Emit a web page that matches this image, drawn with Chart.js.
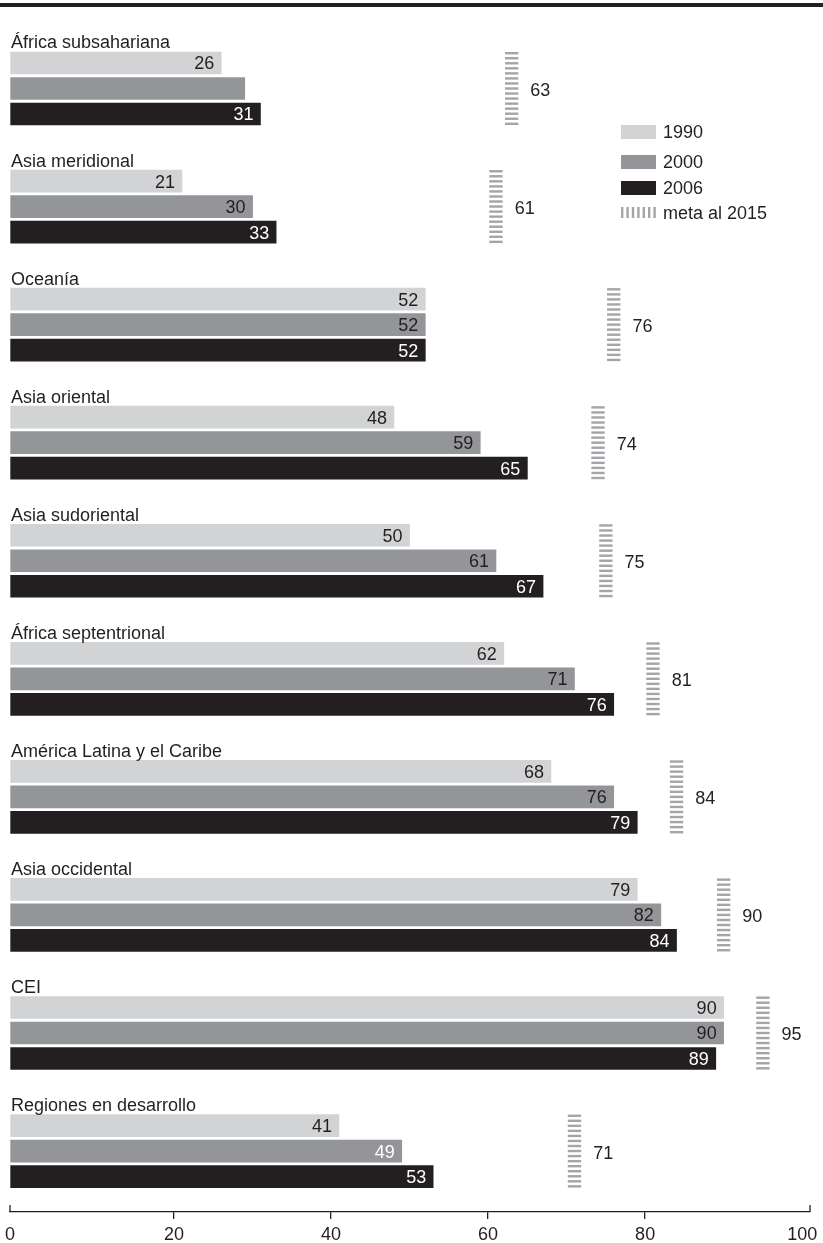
<!DOCTYPE html>
<html>
<head>
<meta charset="utf-8">
<script src="https://cdn.jsdelivr.net/npm/chart.js@4"></script>
<style>
  html, body { margin: 0; padding: 0; background: #fff; }
  canvas { display: block; }
</style>
</head>
<body>
<canvas id="chart" width="823" height="1243"></canvas>
<script>
const categories = [
  'África subsahariana',
  'Asia meridional',
  'Oceanía',
  'Asia oriental',
  'Asia sudoriental',
  'África septentrional',
  'América Latina y el Caribe',
  'Asia occidental',
  'CEI',
  'Regiones en desarrollo'
];
const years = ['1990', '2000', '2006'];
const values1990 = [26, 21, 52, 48, 50, 62, 68, 79, 90, 41];
const values2000 = [29, 30, 52, 59, 61, 71, 76, 82, 90, 49];
const values2006 = [31, 33, 52, 65, 67, 76, 79, 84, 89, 53];
const meta2015 = [63, 61, 76, 74, 75, 81, 84, 90, 95, 71];
const metaLabel = 'meta al 2015';
// the 2000 bar of the first region carries no number in the original
const unlabeled2000 = [0];
const tickValues = [0, 20, 40, 60, 80, 100];
const tickLabels = ['0', '20', '40', '60', '80', '100'];

const INK = '#231f20';
const colors = ['#d1d3d4', '#939598', INK];
const stripeColor = '#a3a5a8';
const labelColors = [INK, INK, '#ffffff'];
const FONT = "'Liberation Sans', Arial, Helvetica, sans-serif";

const X_MIN = -0.9;
const X_MAX = 101;
const STEP = 4.63;          // rows per region (3 bars + label gap)
const LABEL_ROW = -0.57;    // region name sits above the first bar
const rowY = (g, j) => g * STEP + j;

const series = [values1990, values2000, values2006];

const decor = {
  id: 'decor',
  beforeDraw(chart) {
    const { ctx, width } = chart;
    ctx.save();
    ctx.fillStyle = '#fff';
    ctx.fillRect(0, 0, width, chart.height);
    ctx.fillStyle = INK;
    ctx.fillRect(0, 3, width, 4);
    ctx.restore();
  },
  afterDatasetsDraw(chart) {
    const { ctx, scales, chartArea } = chart;
    const y = scales.y;
    ctx.save();
    ctx.font = '18px ' + FONT;

    // striped target markers
    const metaBars = chart.getDatasetMeta(3).data;
    metaBars.forEach((el, g) => {
      const p = el.getProps(['x', 'y', 'base', 'height'], true);
      const left = Math.min(p.x, p.base);
      const right = Math.max(p.x, p.base);
      const top = p.y - p.height / 2;
      const n = 15, h = 2.4;
      const pitch = (p.height - h) / (n - 1);
      ctx.fillStyle = stripeColor;
      for (let i = 0; i < n; i++) {
        ctx.fillRect(left, top + i * pitch, right - left, h);
      }
      ctx.fillStyle = INK;
      ctx.textAlign = 'left';
      ctx.textBaseline = 'alphabetic';
      ctx.fillText(String(meta2015[g]), right + 12, p.y + 7.5);
    });

    // numbers inside the bars
    for (let j = 0; j < 3; j++) {
      chart.getDatasetMeta(j).data.forEach((el, g) => {
        if (j === 1 && unlabeled2000.includes(g)) return;
        let color = labelColors[j];
        if (j === 1 && g === categories.length - 1) color = '#ffffff';
        ctx.fillStyle = color;
        ctx.textAlign = 'right';
        ctx.textBaseline = 'alphabetic';
        ctx.fillText(String(series[j][g]), el.x - 7, el.y + 6.5);
      });
    }

    // region names
    ctx.fillStyle = INK;
    ctx.textAlign = 'left';
    categories.forEach((name, g) => {
      ctx.fillText(name, 11, y.getPixelForValue(rowY(g, LABEL_ROW)));
    });

    // legend
    const lx = 621, lw = 35;
    const rows = [125, 155, 181];
    years.forEach((yr, j) => {
      ctx.fillStyle = colors[j];
      ctx.fillRect(lx, rows[j], lw, 14);
      ctx.fillStyle = INK;
      ctx.fillText(yr, lx + lw + 7, rows[j] + 13);
    });
    ctx.fillStyle = stripeColor;
    for (let i = 0; i < 7; i++) {
      ctx.fillRect(lx + i * 5.4, 207, 2.4, 11);
    }
    ctx.fillStyle = INK;
    ctx.fillText(metaLabel, lx + lw + 7, 218.5);

    // upward end ticks of the axis
    ctx.strokeStyle = INK;
    ctx.lineWidth = 1.3;
    ctx.beginPath();
    [chartArea.left, chartArea.right].forEach(x => {
      ctx.moveTo(x, chartArea.bottom);
      ctx.lineTo(x, chartArea.bottom - 7);
    });
    ctx.stroke();
    ctx.restore();
  }
};

const datasets = years.map((yr, j) => ({
  label: yr,
  data: series[j].map((v, g) => ({ x: v, y: rowY(g, j) })),
  backgroundColor: colors[j],
  barThickness: 22,
  base: X_MIN,
  grouped: false
}));
datasets.push({
  label: metaLabel,
  data: meta2015.map((v, g) => ({ x: [v - 0.85, v + 0.85], y: rowY(g, 1) })),
  backgroundColor: 'rgba(0,0,0,0)',
  barThickness: 73,
  grouped: false
});

Chart.defaults.font.family = FONT;
Chart.defaults.color = INK;

new Chart(document.getElementById('chart'), {
  type: 'bar',
  data: { datasets },
  options: {
    indexAxis: 'y',
    responsive: false,
    animation: false,
    layout: { padding: { top: 12, left: 10, right: 13, bottom: 0 } },
    plugins: { legend: { display: false }, tooltip: { enabled: false } },
    scales: {
      y: {
        type: 'linear',
        reverse: true,
        offset: false,
        grid: { offset: false },
        min: -2,
        max: 45.06,
        display: false
      },
      x: {
        type: 'linear',
        min: X_MIN,
        max: X_MAX,
        afterBuildTicks(scale) {
          scale.ticks = tickValues.map(v => ({ value: v === 0 ? X_MIN : v }));
        },
        afterFit(scale) {
          scale.height = 31;
        },
        ticks: {
          callback: (v, i) => tickLabels[i],
          font: { size: 18 },
          color: INK,
          padding: 5,
          maxRotation: 0,
          autoSkip: false
        },
        grid: {
          drawOnChartArea: false,
          drawTicks: true,
          tickLength: 7,
          lineWidth: 1.3,
          color: ctx => (ctx.index === 0 || ctx.index === tickValues.length - 1) ? 'rgba(0,0,0,0)' : INK
        },
        border: { color: INK, width: 1.3 }
      }
    }
  },
  plugins: [decor]
});
</script>
</body>
</html>
